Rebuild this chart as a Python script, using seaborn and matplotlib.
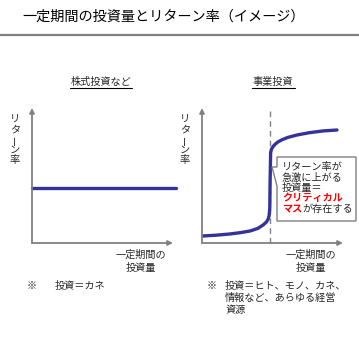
import matplotlib
matplotlib.use("Agg")
import matplotlib.pyplot as plt
import seaborn as sns
import pandas as pd
from matplotlib.lines import Line2D
from matplotlib.patches import Polygon

sns.set_style("white")
plt.rcParams['font.family'] = ['Noto Sans CJK JP', 'DejaVu Sans']

# ---- data ----
title = "一定期間の投資量とリターン率（イメージ）"
left_title = "株式投資など"
right_title = "事業投資"
ylabel_chars = ["リ", "タ", "ー", "ン", "率"]
xlabel_lines = ["一定期間の", "投資量"]
left_x = [0.0, 1.0]
left_y = [0.41, 0.41]
right_x = [0.007, 0.100, 0.196, 0.270, 0.336, 0.390, 0.427, 0.450, 0.462, 0.469, 0.474, 0.476,
           0.476, 0.480, 0.486, 0.495, 0.510, 0.530, 0.560, 0.600, 0.664, 0.750, 0.846, 0.944]
right_y = [0.052, 0.058, 0.067, 0.077, 0.089, 0.108, 0.133, 0.155, 0.175, 0.200, 0.260, 0.350,
           0.541, 0.670, 0.695, 0.712, 0.730, 0.748, 0.765, 0.782, 0.800, 0.817, 0.830, 0.837]
critical_x = 0.476
callout_lines = ["リターン率が", "急激に上がる", "投資量＝"]
callout_red1 = "クリティカル"
callout_red2 = "マス"
callout_tail = "が存在する"
left_note = "投資＝カネ"
right_note = ["投資＝ヒト、モノ、カネ、", "情報など、あらゆる経営", "資源"]

W = H = 359
fig = plt.figure(figsize=(W / 100, H / 100), dpi=100)
fig.patch.set_facecolor("white")

def fx(x):
    return x / W

def fy(y):
    return 1 - y / H

def ftext(x, y, s, **kw):
    return fig.text(fx(x), fy(y), s, **kw)

LINE = "#333399"
GRAY = "#808080"
FS = 7.3

# title + rule
ftext(22, 17, title, fontsize=10.2, va="center", ha="left", color="black")
fig.add_artist(Line2D([0, 1], [fy(35), fy(35)], color=GRAY, lw=1.6))

def make_axes(x0, x1, y0, y1):
    ax = fig.add_axes([fx(x0), fy(y1), (x1 - x0) / W, (y1 - y0) / H])
    ax.set_xlim(0, 1)
    ax.set_ylim(0, 1)
    for s in ax.spines.values():
        s.set_visible(False)
    ax.set_xticks([])
    ax.set_yticks([])
    ax.patch.set_alpha(0)
    return ax

def axis_arrows(ax, xend):
    ap = dict(arrowstyle="-|>", color=GRAY, lw=1.3, mutation_scale=7, shrinkA=0, shrinkB=0)
    ax.annotate("", xy=(0, 1), xytext=(0, 0), xycoords="axes fraction", arrowprops=ap)
    ax.annotate("", xy=(xend, 0), xytext=(0, 0), xycoords="axes fraction", arrowprops=ap)

# left panel
axL = make_axes(32, 176, 108, 243)
sns.lineplot(data=pd.DataFrame({"x": left_x, "y": left_y}), x="x", y="y", ax=axL,
             color=LINE, lw=2.4, clip_on=False, sort=False)
axL.set_xlabel(""); axL.set_ylabel("")
axis_arrows(axL, 0.979)

# right panel
axR = make_axes(202, 345, 108, 243)
axR.plot([critical_x, critical_x], [0, 1.007], color=GRAY, lw=1.0, ls=(0, (4, 3)), clip_on=False)
sns.lineplot(data=pd.DataFrame({"x": right_x, "y": right_y}), x="x", y="y", ax=axR,
             color=LINE, lw=2.4, clip_on=False, sort=False)
axR.set_xlabel(""); axR.set_ylabel("")
axis_arrows(axR, 0.986)

# subtitles with underline
for cx, s, x0, x1 in [(101, left_title, 70, 132), (273, right_title, 252, 295)]:
    ftext(cx, 82, s, fontsize=FS, ha="center", va="center")
    fig.add_artist(Line2D([fx(x0), fx(x1)], [fy(88), fy(88)], color="black", lw=0.8))

# vertical y labels
for x in (15, 185):
    for i, ch in enumerate(ylabel_chars):
        ftext(x, 120 + 10 * i, ch, fontsize=FS, ha="center", va="center",
              rotation=90 if ch == "ー" else 0)

# x labels
for cx in (141, 311):
    ftext(cx, 255, xlabel_lines[0], fontsize=FS, ha="center", va="center")
    ftext(cx, 268, xlabel_lines[1], fontsize=FS, ha="center", va="center")

# callout
pts = [(277, 157), (356, 157), (356, 221), (277, 221), (277, 186), (272, 167), (277, 167)]
fig.add_artist(Polygon([(fx(x), fy(y)) for x, y in pts], closed=True,
                       facecolor="white", edgecolor=GRAY, lw=1.0))
for i, s in enumerate(callout_lines):
    ftext(282, 167 + 10.6 * i, s, fontsize=FS, ha="left", va="center")
ftext(282, 198, callout_red1, fontsize=FS, ha="left", va="center", color="#ff0000", fontweight="bold")
t = ftext(282, 209, callout_red2, fontsize=FS, ha="left", va="center", color="#ff0000", fontweight="bold")
fig.canvas.draw()
bb = t.get_window_extent()
fig.text(bb.x1 / fig.bbox.width, fy(209), callout_tail, fontsize=FS, ha="left", va="center")

# footnotes
ftext(27, 286, "※", fontsize=FS, ha="left", va="center")
ftext(55, 286, left_note, fontsize=FS, ha="left", va="center")
ftext(207, 286, "※", fontsize=FS, ha="left", va="center")
for i, s in enumerate(right_note):
    ftext(225, 286 + 12 * i, s, fontsize=FS, ha="left", va="center")

fig.savefig("out.png", dpi=100, facecolor="white")
